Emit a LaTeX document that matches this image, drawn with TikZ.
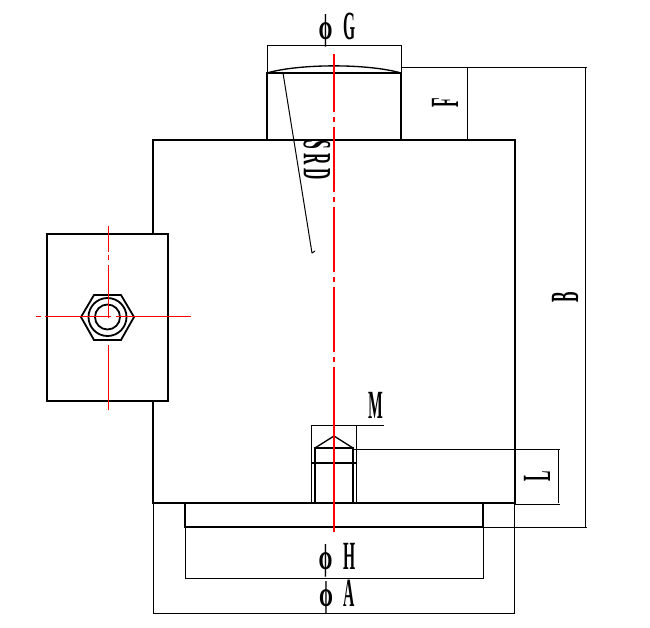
\documentclass[tikz,border=0pt]{standalone}
\usepackage{graphicx}
\usepackage{fontspec}
\setmainfont{Liberation Serif}
\newcommand{\dimtxt}[1]{\scalebox{0.39}[1.0]{\fontsize{30pt}{30pt}\selectfont\bfseries #1}}
\newcommand{\diatxt}[1]{\smash{\scalebox{0.62}[1.0]{\fontsize{27pt}{27pt}\selectfont\bfseries ϕ}}\hspace{8pt}\dimtxt{#1}}
\begin{document}
\begin{tikzpicture}[x=0.75pt,y=-0.75pt,
  thick line/.style={line width=1.35pt,black},
  thin line/.style={line width=0.75pt,black},
  axis line/.style={line width=0.8pt,red},
  fine axis/.style={line width=0.7pt,red},
  dim/.style={inner sep=0pt,outer sep=0pt}]
\useasboundingbox[fill=white] (0,0) rectangle (650,628);
% body outlines
\draw[thick line] (267,140) -- (267,73) -- (401,73) -- (401,140);
\draw[thick line] (153,140) rectangle (515,503);
\draw[thick line] (185,503) rectangle (483,527);
\draw[thick line,fill=white] (47,234) rectangle (168,401);
\draw[line width=1pt] (267,73) .. controls (300,63.5) and (368,63.5) .. (401,73);
% threaded hole
\draw[thick line] (315,503) -- (315,448) -- (353,448) -- (353,503);
\draw[thick line] (311,463) -- (356,463);
\draw[line width=1pt] (315,448) -- (334,436) -- (353,448);
% hex fitting
\draw[thick line] (81,317) -- (94,295) -- (121,295) -- (134,317) -- (121,340) -- (94,340) -- cycle;
\draw[thick line] (107.5,317) circle (19);
\draw[thick line] (107.5,317) circle (12.5);
% thin dimension lines
\draw[thin line] (267,73) -- (267,45) -- (401,45) -- (401,73);
\draw[thin line] (401,67) -- (587,67);
\draw[thin line] (515,140) -- (467,140) -- (467,67);
\draw[thin line] (585,67) -- (585,527);
\draw[thin line] (483,527) -- (587,527);
\draw[thin line] (353,449) -- (560,449);
\draw[thin line] (558,449) -- (558,503);
\draw[thin line] (515,504) -- (560,504);
\draw[thin line] (311,503) -- (311,425) -- (384,425);
\draw[thin line] (356,425) -- (356,503);
\draw[thin line] (185,527) -- (185,578) -- (483,578) -- (483,527);
\draw[thin line] (153,503) -- (153,613) -- (514,613) -- (514,503);
\draw[thin line] (283,73) -- (312,253);
\draw[thin line] (312,253) -- (315,251);
% centre lines
\draw[axis line] (334,54) -- (334,112) (334,117) -- (334,122) (334,127) -- (334,192)
  (334,197) -- (334,202) (334,207) -- (334,272) (334,277) -- (334,282)
  (334,287) -- (334,352) (334,357) -- (334,362) (334,367) -- (334,532);
\draw[fine axis] (108,226) -- (108,252) (108,255) -- (108,260) (108,265) -- (108,318)
  (108,345) -- (108,410);
\draw[fine axis] (36,316.6) -- (41,316.6) (45,316.6) -- (111,316.6) (116,316.6) -- (191,316.6);
% labels
\node[dim] (g) at (337,26) {\diatxt{G}};
\node[dim,rotate=90] (f) at (445,103) {\dimtxt{F}};
\node[dim,rotate=-90] (srd) at (317,160) {\dimtxt{S}\hspace{3pt}\dimtxt{R}\hspace{3pt}\dimtxt{D}};
\node[dim,rotate=90] (b) at (565,297) {\dimtxt{B}};
\node[dim] (m) at (376,405) {\dimtxt{M}};
\node[dim,rotate=90] (l) at (537,476) {\dimtxt{L}};
\node[dim] (h) at (337,556) {\diatxt{H}};
\node[dim] (a) at (337,593) {\diatxt{A}};
\end{tikzpicture}
\end{document}
